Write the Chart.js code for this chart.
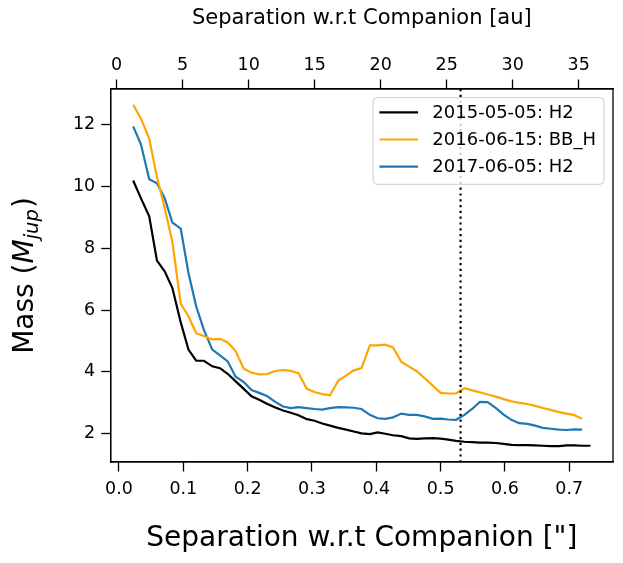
<!DOCTYPE html>
<html>
<head>
<meta charset="utf-8">
<script src="https://cdn.jsdelivr.net/npm/chart.js@4.4.1/dist/chart.umd.min.js"></script>
<style>
  body { margin: 0; background: #fff; }
  #wrap { width: 623px; height: 563px; }
</style>
</head>
<body>
<div id="wrap"><canvas id="massChart" width="623" height="563"></canvas></div>
<script>
// separation in arcsec (sampling of the curves)
const sep = [0.022, 0.034, 0.047, 0.059, 0.071, 0.083, 0.096, 0.108, 0.120, 0.132,
             0.145, 0.157, 0.169, 0.181, 0.194, 0.206, 0.218, 0.230, 0.243, 0.255,
             0.267, 0.279, 0.292, 0.304, 0.316, 0.328, 0.341, 0.353, 0.365, 0.377,
             0.390, 0.402, 0.414, 0.426, 0.439, 0.451, 0.463, 0.475, 0.488, 0.500,
             0.512, 0.524, 0.537, 0.549, 0.561, 0.573, 0.586, 0.598, 0.610, 0.622,
             0.635, 0.647, 0.659, 0.671, 0.684, 0.696, 0.708, 0.720, 0.733];

const mass2015 = [10.19, 9.62, 9.03, 7.60, 7.25, 6.71, 5.60, 4.72, 4.36, 4.36,
                  4.18, 4.12, 3.94, 3.70, 3.45, 3.21, 3.10, 2.97, 2.85, 2.75,
                  2.68, 2.60, 2.47, 2.42, 2.33, 2.26, 2.19, 2.13, 2.07, 2.01,
                  1.99, 2.04, 2.00, 1.95, 1.92, 1.85, 1.83, 1.85, 1.86, 1.84,
                  1.81, 1.77, 1.74, 1.73, 1.71, 1.71, 1.70, 1.67, 1.64, 1.63,
                  1.63, 1.62, 1.61, 1.60, 1.60, 1.62, 1.62, 1.61, 1.61];

const mass2016 = [12.64, 12.20, 11.55, 10.30, 9.30, 8.20, 6.20, 5.80, 5.25, 5.16,
                  5.05, 5.07, 4.95, 4.68, 4.10, 3.97, 3.92, 3.93, 4.03, 4.06,
                  4.03, 3.96, 3.45, 3.35, 3.28, 3.24, 3.72, 3.88, 4.05, 4.12,
                  4.86, 4.86, 4.88, 4.79, 4.32, 4.17, 4.02, 3.80, 3.55, 3.32,
                  3.30, 3.30, 3.47, 3.40, 3.34, 3.27, 3.20, 3.12, 3.05, 3.00,
                  2.96, 2.90, 2.83, 2.77, 2.70, 2.65, 2.60, 2.48];

const mass2017 = [11.94, 11.37, 10.23, 10.10, 9.62, 8.83, 8.63, 7.20, 6.12, 5.36,
                  4.72, 4.53, 4.34, 3.85, 3.67, 3.41, 3.32, 3.22, 3.03, 2.88,
                  2.83, 2.86, 2.83, 2.80, 2.78, 2.83, 2.86, 2.85, 2.84, 2.80,
                  2.61, 2.50, 2.48, 2.53, 2.65, 2.61, 2.61, 2.56, 2.48, 2.49,
                  2.46, 2.45, 2.61, 2.80, 3.03, 3.02, 2.83, 2.62, 2.45, 2.34,
                  2.32, 2.26, 2.19, 2.16, 2.13, 2.12, 2.14, 2.13];

const seriesLabels = ["2015-05-05: H2", "2016-06-15: BB_H", "2017-06-05: H2"];
const seriesColors = ["#000000", "#ffa500", "#1f77b4"];

const arcsecTicks = [0.0, 0.1, 0.2, 0.3, 0.4, 0.5, 0.6, 0.7];
const auTicks = [0, 5, 10, 15, 20, 25, 30, 35];
const massTicks = [2, 4, 6, 8, 10, 12];
const companionSep = 0.531;

const FONT = "'DejaVu Sans', 'Liberation Sans', sans-serif";

function toPoints(ys) {
    return ys.map(function (y, i) { return { x: sep[i], y: y }; });
}

function fixTicks(values) {
    return function (scale) {
        scale.ticks = values.map(function (v) { return { value: v }; });
    };
}

// frame, dotted companion line, legend and y title
const extras = {
    id: "extras",
    afterDatasetsDraw(chart) {
        const ctx = chart.ctx;
        const a = chart.chartArea;
        const px = chart.scales.x.getPixelForValue(companionSep);
        ctx.save();
        ctx.strokeStyle = "#000";
        ctx.lineWidth = 2.2;
        ctx.setLineDash([2.2, 3.6]);
        ctx.beginPath();
        ctx.moveTo(px, a.top);
        ctx.lineTo(px, a.bottom);
        ctx.stroke();
        ctx.restore();
    },
    afterDraw(chart) {
        const ctx = chart.ctx;
        const a = chart.chartArea;

        // legend
        ctx.save();
        ctx.font = "18px " + FONT;
        let textW = 0;
        seriesLabels.forEach(function (t) { textW = Math.max(textW, ctx.measureText(t).width); });
        const w = 6.3 + 38.7 + 14.3 + textW + 8;
        const h = 86.6;
        const right = a.right - 9;
        const left = right - w;
        const top = a.top + 8.7;
        ctx.beginPath();
        ctx.roundRect(left, top, w, h, 4);
        ctx.fillStyle = "rgba(255,255,255,0.8)";
        ctx.fill();
        ctx.strokeStyle = "#cccccc";
        ctx.lineWidth = 1;
        ctx.stroke();
        seriesLabels.forEach(function (t, i) {
            const ry = top + 14.6 + i * 27.2;
            ctx.strokeStyle = seriesColors[i];
            ctx.lineWidth = 2.2;
            ctx.beginPath();
            ctx.moveTo(left + 6.3, ry);
            ctx.lineTo(left + 45, ry);
            ctx.stroke();
            ctx.fillStyle = "#000";
            ctx.textBaseline = "middle";
            ctx.fillText(t, left + 59.3, ry + 1);
        });
        ctx.restore();

        // frame
        ctx.save();
        ctx.strokeStyle = "#000";
        ctx.lineWidth = 1.3;
        ctx.strokeRect(a.left, a.top, a.right - a.left, a.bottom - a.top);
        ctx.restore();

        // y title: Mass (M_jup)
        ctx.save();
        ctx.translate(33.3, (a.top + a.bottom) / 2);
        ctx.rotate(-Math.PI / 2);
        ctx.fillStyle = "#000";
        ctx.textBaseline = "alphabetic";
        const f1 = "28px " + FONT, f2 = "italic 28px " + FONT, f3 = "italic 19.6px " + FONT;
        ctx.font = f1; const w1 = ctx.measureText("Mass (").width;
        ctx.font = f2; const w2 = ctx.measureText("M").width;
        ctx.font = f3; const w3 = ctx.measureText("jup").width;
        ctx.font = f1; const w4 = ctx.measureText(")").width;
        let x0 = -(w1 + w2 + w3 + 1 + w4) / 2;
        ctx.font = f1; ctx.fillText("Mass (", x0, 0); x0 += w1;
        ctx.font = f2; ctx.fillText("M", x0, 0); x0 += w2;
        ctx.font = f3; ctx.fillText("jup", x0, 5); x0 += w3 + 1;
        ctx.font = f1; ctx.fillText(")", x0, 0);
        ctx.restore();
    }
};

Chart.defaults.color = "#000";
Chart.defaults.font.family = FONT;

const axisGrid = {
    drawOnChartArea: false,
    drawTicks: true,
    tickLength: 9.5,
    tickWidth: 1.3,
    tickColor: "#000"
};

new Chart(document.getElementById("massChart").getContext("2d"), {
    type: "line",
    data: {
        datasets: [
            { label: seriesLabels[0], data: toPoints(mass2015), borderColor: seriesColors[0] },
            { label: seriesLabels[1], data: toPoints(mass2016), borderColor: seriesColors[1] },
            { label: seriesLabels[2], data: toPoints(mass2017), borderColor: seriesColors[2] }
        ]
    },
    options: {
        responsive: false,
        animation: false,
        layout: { padding: { left: 0, right: 10, top: 0, bottom: 0 } },
        elements: {
            point: { radius: 0 },
            line: { borderWidth: 2.2, tension: 0, fill: false }
        },
        plugins: {
            legend: { display: false },
            tooltip: { enabled: false }
        },
        scales: {
            x: {
                type: "linear",
                position: "bottom",
                min: -0.0129,
                max: 0.768,
                afterBuildTicks: fixTicks(arcsecTicks),
                afterFit: function (s) { s.height = 101; },
                ticks: {
                    font: { size: 17.5 },
                    padding: 7,
                    maxRotation: 0,
                    autoSkip: false,
                    callback: function (v) { return v.toFixed(1); }
                },
                grid: axisGrid,
                border: { color: "#000", width: 1.3 },
                title: {
                    display: true,
                    text: 'Separation w.r.t Companion ["]',
                    font: { size: 28 },
                    padding: { top: 0, bottom: 7 }
                }
            },
            x2: {
                type: "linear",
                axis: "x",
                position: "top",
                min: -0.45,
                max: 37.6,
                afterBuildTicks: fixTicks(auTicks),
                afterFit: function (s) { s.height = 89; },
                ticks: {
                    font: { size: 17.5 },
                    padding: 4,
                    maxRotation: 0,
                    autoSkip: false
                },
                grid: axisGrid,
                border: { color: "#000", width: 1.3 },
                title: {
                    display: true,
                    text: "Separation w.r.t Companion [au]",
                    font: { size: 21 },
                    padding: { top: 6, bottom: 0 }
                }
            },
            y: {
                type: "linear",
                min: 1.085,
                max: 13.15,
                afterBuildTicks: fixTicks(massTicks),
                afterFit: function (s) { s.width = 110.7; },
                ticks: {
                    font: { size: 17.5 },
                    padding: 6,
                    autoSkip: false
                },
                grid: axisGrid,
                border: { color: "#000", width: 1.3 }
            }
        }
    },
    plugins: [extras]
});
</script>
</body>
</html>
